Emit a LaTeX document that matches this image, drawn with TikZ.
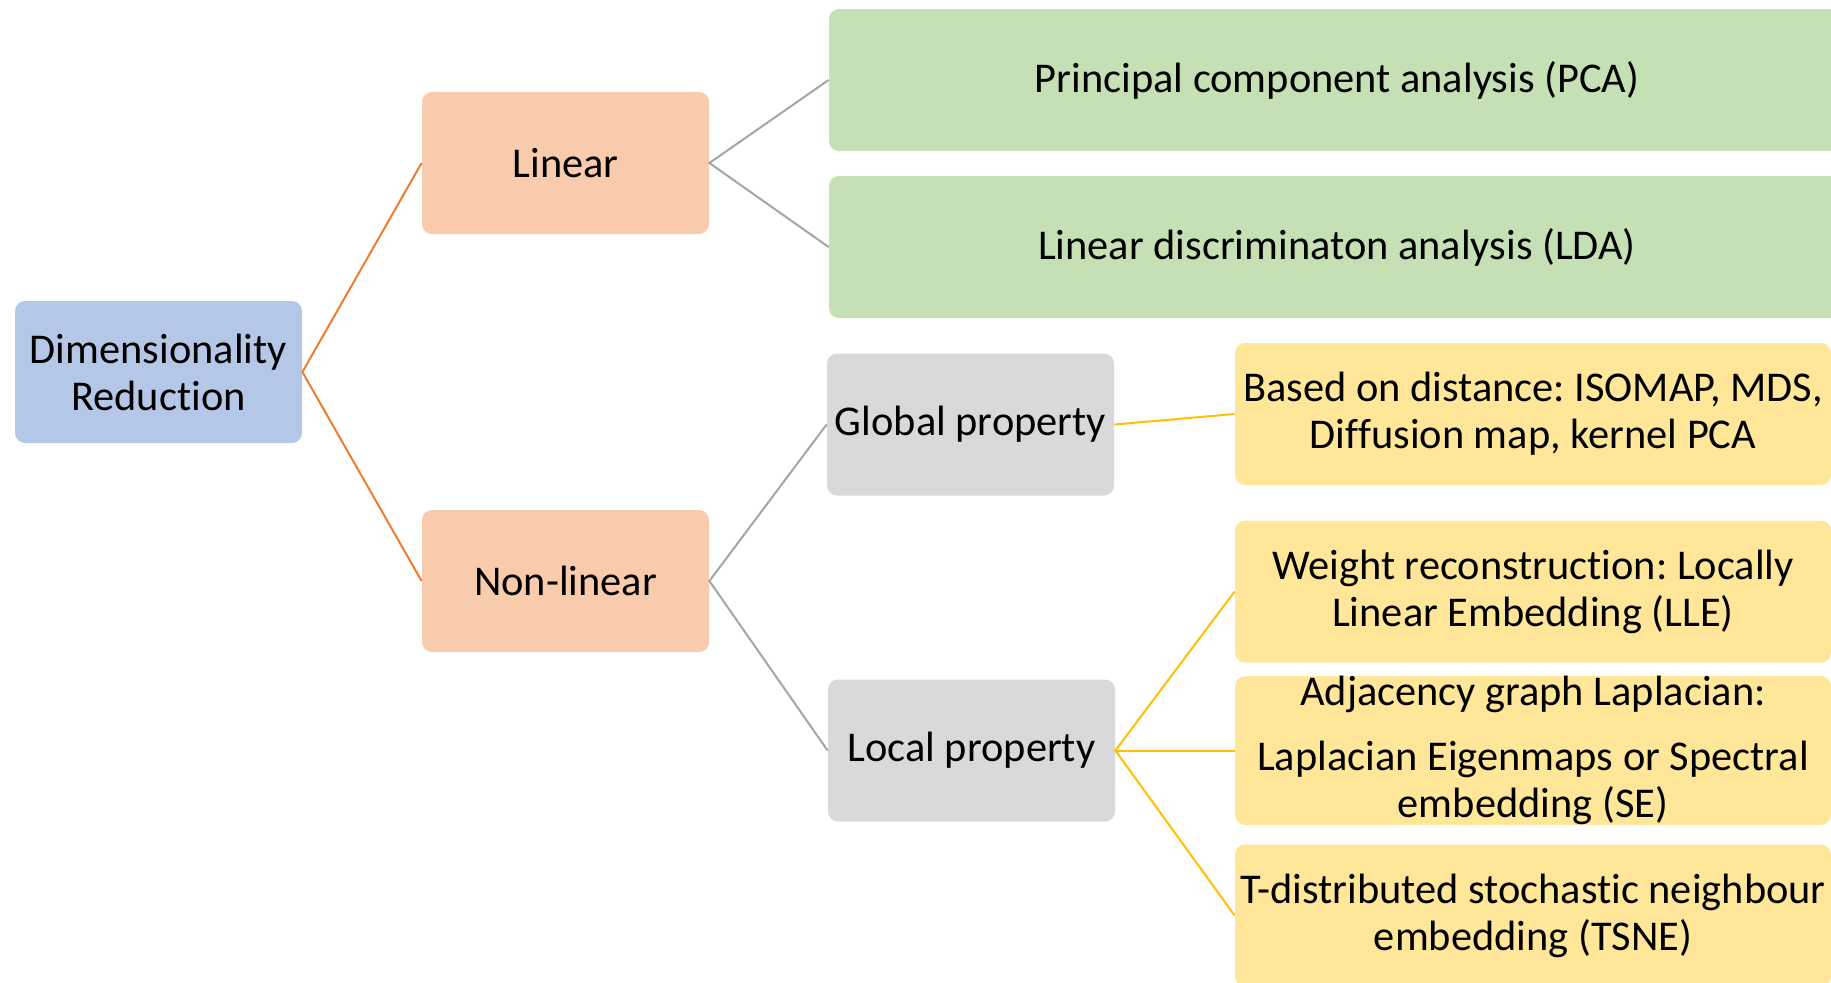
\documentclass[tikz,border=0pt]{standalone}
\usepackage{fontspec}
\setmainfont[Ligatures=NoCommon]{Carlito}
\usepackage{tikz}
\frenchspacing

\definecolor{rootblue}{HTML}{B4C7E7}
\definecolor{peach}{HTML}{F8CBAD}
\definecolor{leafgreen}{HTML}{C5E0B4}
\definecolor{propgray}{HTML}{D9D9D9}
\definecolor{leafyellow}{HTML}{FFE699}
\definecolor{lineorange}{HTML}{ED7D31}
\definecolor{linegray}{HTML}{A5A5A5}
\definecolor{linegold}{HTML}{FFC000}

\begin{document}
\begin{tikzpicture}[x=0.5pt,y=-0.5pt,
	box/.style={rounded corners=5pt,minimum width=143.5pt,minimum height=71pt,align=center,inner sep=0pt,font=\fontsize{21.2}{23.5}\selectfont},
	wide/.style={box,minimum width=508pt},
	leaf/.style={box,minimum width=298pt},
	link/.style={line width=1pt}]
	\useasboundingbox (0,0) rectangle (1831,982);
	\clip (0,0) rectangle (1831,982);
	% root
		\node[box,fill=rootblue] (dimred) at (158.5,372) {Dimensionality\\Reduction};
	% first level
		\node[box,fill=peach] (linear) at (565.5,163) {Linear};
		\node[box,fill=peach] (nonlinear) at (565.5,581) {Non-linear};
	% linear methods
		\node[wide,fill=leafgreen] (pca) at (1337,80) {Principal component analysis (PCA)};
		\node[wide,fill=leafgreen] (lda) at (1337,247) {Linear discriminaton analysis (LDA)};
	% non-linear properties
		\node[box,fill=propgray] (global) at (970.5,424.5) {Global property};
		\node[box,fill=propgray] (local) at (971.5,750.5) {Local property};
	% non-linear methods
		\node[leaf,fill=leafyellow] (isomap) at (1533,414) {Based on distance: ISOMAP, MDS,\\Diffusion map, kernel PCA};
		\node[leaf,fill=leafyellow] (lle) at (1533,591.5) {Weight reconstruction: Locally\\Linear Embedding (LLE)};
		\node[leaf,fill=leafyellow] (se) at (1533,750.5) {Adjacency graph Laplacian:\\[9pt]Laplacian Eigenmaps or Spectral\\embedding (SE)};
		\node[leaf,fill=leafyellow] (tsne) at (1533,915.5) {T-distributed stochastic neighbour\\embedding (TSNE)};
	% connectors
		\draw[link,lineorange] (linear.west) -- (dimred.east) -- (nonlinear.west);
		\draw[link,linegray] (pca.west) -- (linear.east) -- (lda.west);
		\draw[link,linegray] (global.west) -- (nonlinear.east) -- (local.west);
		\draw[link,linegold] (global.east) -- (isomap.west);
		\draw[link,linegold] (lle.west) -- (local.east) -- (tsne.west);
		\draw[link,linegold] (local.east) -- (se.west);
\end{tikzpicture}
\end{document}
